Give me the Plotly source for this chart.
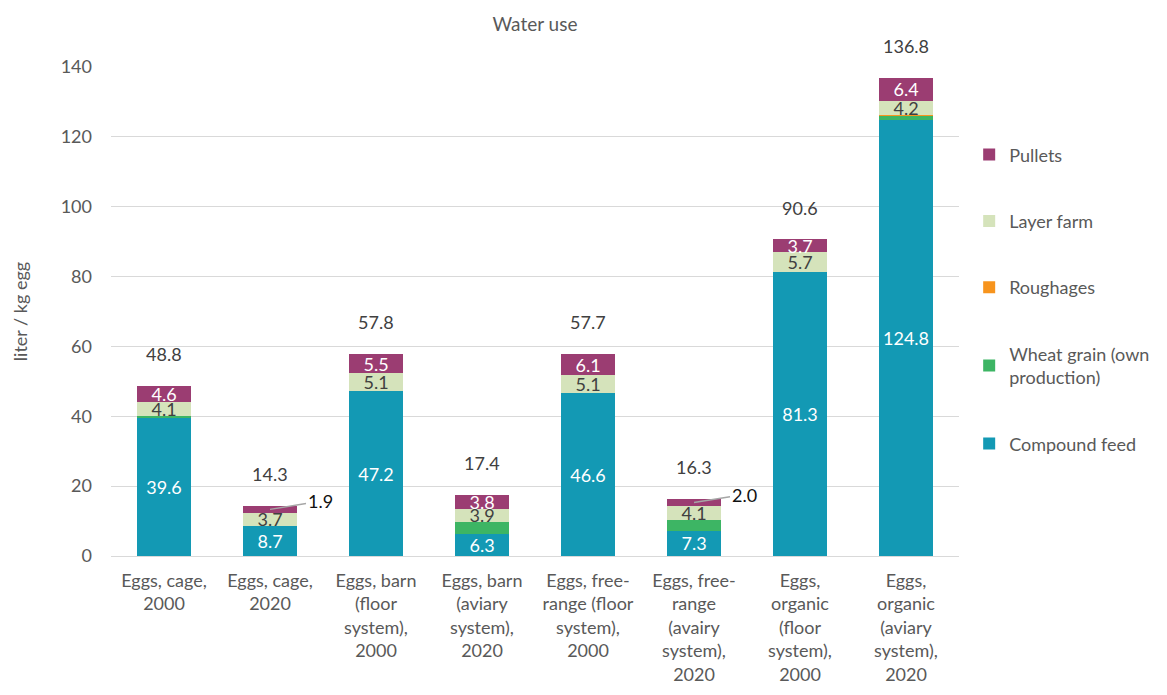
import plotly.graph_objects as go

categories = [
    "Eggs, cage,<br>2000",
    "Eggs, cage,<br>2020",
    "Eggs, barn<br>(floor<br>system),<br>2000",
    "Eggs, barn<br>(aviary<br>system),<br>2020",
    "Eggs, free-<br>range (floor<br>system),<br>2000",
    "Eggs, free-<br>range<br>(avairy<br>system),<br>2020",
    "Eggs,<br>organic<br>(floor<br>system),<br>2000",
    "Eggs,<br>organic<br>(aviary<br>system),<br>2020",
]
compound_feed = [39.6, 8.7, 47.2, 6.3, 46.6, 7.3, 81.3, 124.8]
wheat_grain = [0.5, 0.0, 0.0, 3.4, 0.0, 2.9, 0.0, 1.2]
roughages = [0.0, 0.0, 0.0, 0.0, 0.0, 0.0, 0.0, 0.2]
layer_farm = [4.1, 3.7, 5.1, 3.9, 5.1, 4.1, 5.7, 4.2]
pullets = [4.6, 1.9, 5.5, 3.8, 6.1, 2.0, 3.7, 6.4]
totals = [48.8, 14.3, 57.8, 17.4, 57.7, 16.3, 90.6, 136.8]

FONT = "Lato"
GREY = "#595959"
DARK = "#404040"
FS = 18

def labels(vals, minv=2.5):
    return [f"{v:.1f}" if v >= minv else "" for v in vals]

fig = go.Figure()
series = [
    ("Compound feed", compound_feed, "#1399B4", labels(compound_feed), "white"),
    ("Wheat grain (own<br>production)", wheat_grain, "#3DB564", [""] * 8, "white"),
    ("Roughages", roughages, "#F7941D", [""] * 8, "white"),
    ("Layer farm", layer_farm, "#D5E3BB", labels(layer_farm), DARK),
    ("Pullets", pullets, "#9B3D72", labels(pullets), "white"),
]
n = len(series)
for i, (name, vals, col, txt, tcol) in enumerate(series):
    fig.add_trace(go.Bar(
        x=categories, y=vals, name=name, legendgroup=str(i), legendrank=n - i,
        marker=dict(color=col, line=dict(width=0)),
        text=txt, textposition="inside", insidetextanchor="middle",
        textfont=dict(family=FONT, size=FS, color=tcol),
        hoverinfo="x+y+name",
    ))

# total labels
for c, t in zip(categories, totals):
    fig.add_annotation(x=c, y=t, text=f"{t:.1f}", showarrow=False, yshift=32,
                       font=dict(family=FONT, size=FS, color=DARK))

# small pullet values with leader lines
for c, p, t in zip(categories, pullets, totals):
    if p < 2.5:
        fig.add_annotation(x=c, y=t - p / 2, text=f"{p:.1f}", showarrow=True,
                           arrowhead=0, arrowwidth=1.5, arrowcolor="#A6A6A6",
                           ax=50, ay=-8, xanchor="center",
                           font=dict(family=FONT, size=FS, color="#111111"))

fig.update_layout(
    barmode="stack",
    bargap=0.49,
    width=1167, height=695,
    margin=dict(l=111, r=208, t=67, b=139),
    plot_bgcolor="white", paper_bgcolor="white",
    font=dict(family=FONT, size=FS, color=GREY),
    title=dict(text="Water use", x=0.5, xref="paper", y=1 - 24 / 695, yanchor="middle",
               font=dict(family=FONT, size=19, color=GREY)),
    uniformtext=dict(minsize=FS, mode="show"),
    legend=dict(x=1.012, xanchor="left", y=0.525, yanchor="middle",
                traceorder="grouped", tracegroupgap=40,
                font=dict(family=FONT, size=FS, color=GREY),
                itemwidth=30),
    showlegend=True,
)
fig.update_yaxes(range=[0, 140], dtick=20, showgrid=True, gridcolor="#D9D9D9", gridwidth=1,
                 zeroline=True, zerolinecolor="#D9D9D9", zerolinewidth=1, automargin=False,
                 tickfont=dict(family=FONT, size=FS, color=GREY), ticklabelstandoff=18,
                 title=dict(text="liter / kg egg", standoff=28,
                            font=dict(family=FONT, size=FS, color=GREY)))
fig.update_xaxes(showline=False, tickfont=dict(family=FONT, size=FS, color=GREY),
                 ticklabelstandoff=12, automargin=False)

fig.write_html("out.html")
